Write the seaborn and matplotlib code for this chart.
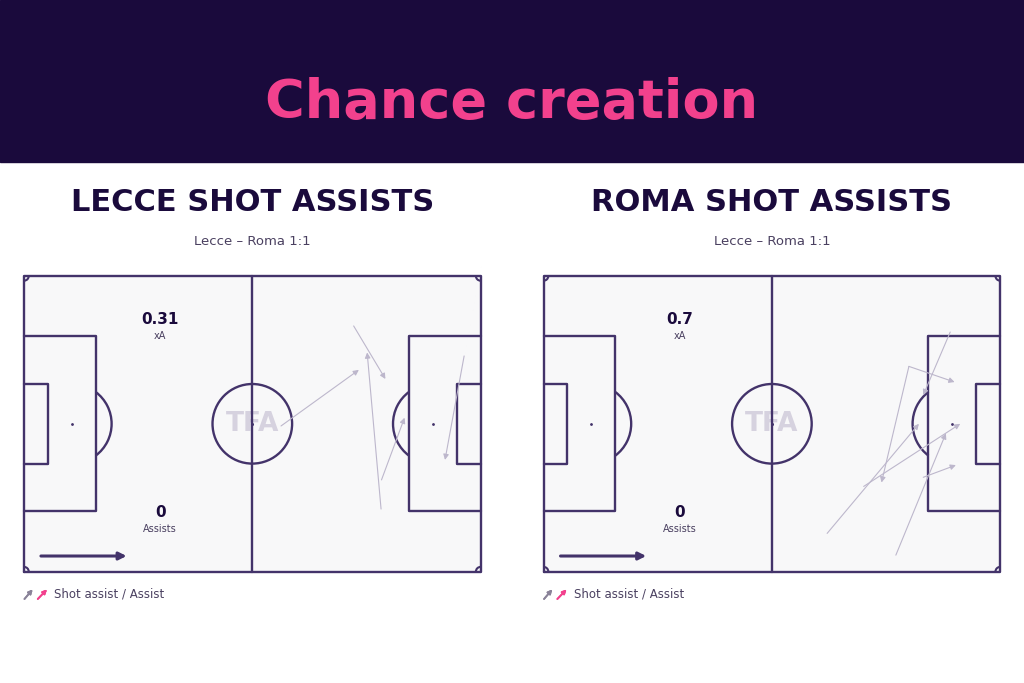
import matplotlib.pyplot as plt
import seaborn as sns
import pandas as pd
from matplotlib.patches import Rectangle, Circle, Arc

# chart data
teams = ["LECCE", "ROMA"]
xa_values = ["0.31", "0.7"]
assist_values = ["0", "0"]
match_label = "Lecce – Roma 1:1"

# shot assists in metres (105 x 68 pitch, attacking to the right)
lecce_x_start = [75.8, 82.1, 59.1, 82.2, 101.2]
lecce_y_start = [56.5, 14.4, 33.5, 21.1, 49.6]
lecce_x_end = [83.1, 78.9, 77.0, 87.5, 96.8]
lecce_y_end = [44.3, 50.4, 46.4, 35.4, 25.7]

roma_x_start = [93.5, 84.0, 84.0, 65.2, 73.6, 81.0, 87.3]
roma_y_start = [55.1, 47.2, 47.2, 8.8, 19.6, 3.8, 21.7]
roma_x_end = [87.3, 94.5, 77.7, 86.3, 95.8, 92.5, 94.8]
roma_y_end = [40.6, 43.6, 20.5, 34.0, 34.0, 31.8, 24.5]

NAVY = "#1a0a3c"
PINK = "#f2418d"
LINE = "#43336a"
ARROW = "#bdb7cc"
PITCH_BG = "#f8f8f9"
TEXT = "#1a0a3c"
GREY = "#4a4060"


def draw_pitch(ax):
    ax.set_facecolor(PITCH_BG)
    kw = dict(color=LINE, lw=1.7, zorder=2, clip_on=False)
    ax.plot([0, 105, 105, 0, 0], [0, 0, 68, 68, 0], **kw)
    ax.plot([52.5, 52.5], [0, 68], **kw)
    ax.add_patch(Circle((52.5, 34), 9.15, fill=False, ec=LINE, lw=1.7, zorder=2))
    ax.plot([52.5], [34], "o", color=LINE, ms=1.2, zorder=2)
    # penalty and six-yard boxes
    for x0, d in [(0, 1), (105, -1)]:
        ax.plot([x0, x0 + d * 16.5, x0 + d * 16.5, x0],
                [13.84, 13.84, 54.16, 54.16], **kw)
        ax.plot([x0, x0 + d * 5.5, x0 + d * 5.5, x0],
                [24.84, 24.84, 43.16, 43.16], **kw)
        ax.plot([x0 + d * 11], [34], "o", color=LINE, ms=1.0, zorder=2)
    ax.add_patch(Arc((11, 34), 18.3, 18.3, theta1=-53.13, theta2=53.13,
                     ec=LINE, lw=1.7, zorder=2))
    ax.add_patch(Arc((94, 34), 18.3, 18.3, theta1=126.87, theta2=233.13,
                     ec=LINE, lw=1.7, zorder=2))
    # corner arcs
    for (cx, cy), t1 in [((0, 0), 0), ((105, 0), 90), ((105, 68), 180), ((0, 68), 270)]:
        ax.add_patch(Arc((cx, cy), 2.2, 2.2, theta1=t1, theta2=t1 + 90,
                         ec=LINE, lw=1.5, zorder=2))
    ax.text(52.5, 34, "TFA", ha="center", va="center", fontsize=19,
            fontweight="heavy", color="#d6d2df", zorder=1)
    ax.set_xlim(0, 105)
    ax.set_ylim(0, 68)
    ax.set_xticks([])
    ax.set_yticks([])
    for s in ax.spines.values():
        s.set_visible(False)


sns.set_theme(style="white")
plt.rcParams["font.family"] = ["DejaVu Sans"]

fig = plt.figure(figsize=(10.24, 6.83), dpi=100)
fig.patch.set_facecolor("white")
fig.patches.append(Rectangle((0, 0.763), 1, 0.237, transform=fig.transFigure,
                             color=NAVY, zorder=0))
fig.text(0.5, 0.849, "Chance creation", ha="center", va="center",
         fontsize=39, fontweight="bold", color=PINK)

frames = [
    pd.DataFrame({"x": lecce_x_start, "y": lecce_y_start,
                  "x_end": lecce_x_end, "y_end": lecce_y_end}),
    pd.DataFrame({"x": roma_x_start, "y": roma_y_start,
                  "x_end": roma_x_end, "y_end": roma_y_end}),
]

lefts = [0.0234, 0.5308]
for i, team in enumerate(teams):
    ax = fig.add_axes([lefts[i], 0.163, 0.446, 0.433])
    draw_pitch(ax)
    df = frames[i]
    for _, r in df.iterrows():
        ax.annotate("", xy=(r["x_end"], r["y_end"]), xytext=(r["x"], r["y"]),
                    arrowprops=dict(arrowstyle="-|>", color=ARROW, lw=0.8,
                                    mutation_scale=8, shrinkA=0, shrinkB=0),
                    zorder=3)
    ax.text(31.3, 57.9, xa_values[i], ha="center", va="center", fontsize=11,
            fontweight="bold", color=TEXT)
    ax.text(31.3, 54.2, "xA", ha="center", va="center", fontsize=7, color=GREY)
    ax.text(31.3, 13.5, assist_values[i], ha="center", va="center", fontsize=11,
            fontweight="bold", color=TEXT)
    ax.text(31.3, 9.8, "Assists", ha="center", va="center", fontsize=7, color=GREY)
    ax.annotate("", xy=(23.6, 3.6), xytext=(3.9, 3.6),
                arrowprops=dict(arrowstyle="-|>", color=LINE, lw=2.2,
                                mutation_scale=11, shrinkA=0, shrinkB=0))

    cx = lefts[i] + 0.223
    fig.text(cx, 0.704, f"{team} SHOT ASSISTS", ha="center", va="center",
             fontsize=22, fontweight="heavy", color=TEXT)
    fig.text(cx, 0.646, match_label, ha="center", va="center",
             fontsize=9.5, color=GREY)

    # legend
    lx = lefts[i]
    fig.add_artist(plt.annotate("", xy=(lx + 0.0085, 0.137), xytext=(lx + 0.0005, 0.123),
                                xycoords="figure fraction", textcoords="figure fraction",
                                arrowprops=dict(arrowstyle="-|>", color="#8a8399", lw=1.3,
                                                mutation_scale=6, shrinkA=0, shrinkB=0)))
    fig.add_artist(plt.annotate("", xy=(lx + 0.0225, 0.137), xytext=(lx + 0.0135, 0.123),
                                xycoords="figure fraction", textcoords="figure fraction",
                                arrowprops=dict(arrowstyle="-|>", color=PINK, lw=1.3,
                                                mutation_scale=6, shrinkA=0, shrinkB=0)))
    fig.text(lx + 0.0295, 0.130, "Shot assist / Assist", ha="left", va="center",
             fontsize=8.5, color=GREY)

fig.savefig("out.png", dpi=100)
